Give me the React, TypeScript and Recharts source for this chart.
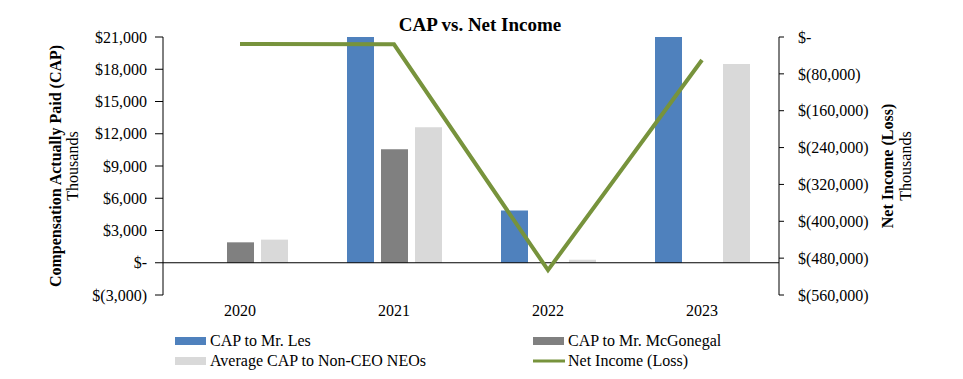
import React from 'react';
import {
  ComposedChart,
  Bar,
  Line,
  XAxis,
  YAxis,
  ReferenceLine,
} from 'recharts';

const years = ['2020', '2021', '2022', '2023'];
const capLes = [0, 26000, 4850, 26000];
const capMcGonegal = [1900, 10550, 0, 0];
const capNonCeo = [2150, 12600, 280, 18500];
const netIncome = [-15000, -16000, -506000, -50000];

const leftTicks = [-3000, 0, 3000, 6000, 9000, 12000, 15000, 18000, 21000];
const rightTicks = [-560000, -480000, -400000, -320000, -240000, -160000, -80000, 0];

const data = years.map((year, i) => ({
  year,
  les: capLes[i],
  mcgonegal: capMcGonegal[i],
  nonCeo: capNonCeo[i],
  netIncome: netIncome[i],
}));

const FONT = 'Liberation Serif, Times New Roman, serif';
const BLUE = '#4F81BD';
const GRAY = '#808080';
const LIGHT = '#D9D9D9';
const GREEN = '#77933C';

const money = (v: number) => {
  if (v === 0) return '$-';
  const s = Math.abs(v).toLocaleString('en-US');
  return v < 0 ? `$(${s})` : `$${s}`;
};

const tickStyle = { fill: '#000', fontSize: 16, fontFamily: FONT, style: { fontFamily: FONT } };

function LegendItem({ x, y, color, label, line }: { x: number; y: number; color: string; label: string; line?: boolean }) {
  return (
    <g>
      {line ? (
        <line x1={x} x2={x + 32} y1={y} y2={y} stroke={color} strokeWidth={3} />
      ) : (
        <rect x={x} y={y - 4} width={31} height={8} fill={color} />
      )}
      <text x={x + 35} y={y + 5} fontSize={16} fontFamily={FONT} fill="#000">
        {label}
      </text>
    </g>
  );
}

export default function App() {
  return (
    <div
      style={{ position: 'absolute', left: 0, top: 0, width: 963, height: 379, background: '#fff', fontFamily: FONT }}
    >
      <ComposedChart
        width={963}
        height={379}
        data={data}
        margin={{ top: 37, right: 0, bottom: 54, left: 0 }}
        barGap={7}
        barCategoryGap="19%"
        style={{ fontFamily: FONT }}
      >
        <XAxis
          dataKey="year"
          height={30}
          axisLine={false}
          tickLine={false}
          tick={tickStyle}
          tickMargin={4}
        />
        <YAxis
          yAxisId="left"
          width={163}
          domain={[-3000, 21000]}
          ticks={leftTicks}
          allowDataOverflow
          tickFormatter={money}
          tick={tickStyle}
          axisLine={{ stroke: '#000' }}
          tickLine={{ stroke: '#000' }}
          tickSize={8}
          tickMargin={8}
        />
        <YAxis
          yAxisId="right"
          orientation="right"
          width={184}
          domain={[-560000, 0]}
          ticks={rightTicks}
          allowDataOverflow
          tickFormatter={money}
          tick={tickStyle}
          axisLine={{ stroke: '#000' }}
          tickLine={{ stroke: '#000' }}
          tickSize={5}
          tickMargin={14}
        />
        <ReferenceLine yAxisId="left" y={0} stroke="#000" strokeWidth={1} />
        <Bar yAxisId="left" dataKey="les" name="CAP to Mr. Les" fill={BLUE} barSize={27} isAnimationActive={false} />
        <Bar yAxisId="left" dataKey="mcgonegal" name="CAP to Mr. McGonegal" fill={GRAY} barSize={27} isAnimationActive={false} />
        <Bar yAxisId="left" dataKey="nonCeo" name="Average CAP to Non-CEO NEOs" fill={LIGHT} barSize={27} isAnimationActive={false} />
        <Line
          yAxisId="right"
          type="linear"
          dataKey="netIncome"
          name="Net Income (Loss)"
          stroke={GREEN}
          strokeWidth={4}
          dot={false}
          activeDot={false}
          isAnimationActive={false}
        />
      </ComposedChart>
      <svg width={963} height={379} style={{ position: 'absolute', left: 0, top: 0, pointerEvents: 'none' }}>
        <text x={480} y={31} textAnchor="middle" fontSize={19} fontWeight="bold" fontFamily={FONT} fill="#000">
          CAP vs. Net Income
        </text>
        <text
          transform="translate(61,166) rotate(-90)"
          textAnchor="middle"
          fontSize={16}
          fontWeight="bold"
          fontFamily={FONT}
          fill="#000"
        >
          Compensation Actually Paid (CAP)
        </text>
        <text transform="translate(78,166) rotate(-90)" textAnchor="middle" fontSize={16} fontFamily={FONT} fill="#000">
          Thousands
        </text>
        <text
          transform="translate(893,166) rotate(-90)"
          textAnchor="middle"
          fontSize={16}
          fontWeight="bold"
          fontFamily={FONT}
          fill="#000"
        >
          Net Income (Loss)
        </text>
        <text transform="translate(911,166) rotate(-90)" textAnchor="middle" fontSize={16} fontFamily={FONT} fill="#000">
          Thousands
        </text>
        <LegendItem x={175} y={341} color={BLUE} label="CAP to Mr. Les" />
        <LegendItem x={533} y={341} color={GRAY} label="CAP to Mr. McGonegal" />
        <LegendItem x={175} y={361} color={LIGHT} label="Average CAP to Non-CEO NEOs" />
        <LegendItem x={533} y={361} color={GREEN} label="Net Income (Loss)" line />
      </svg>
    </div>
  );
}
